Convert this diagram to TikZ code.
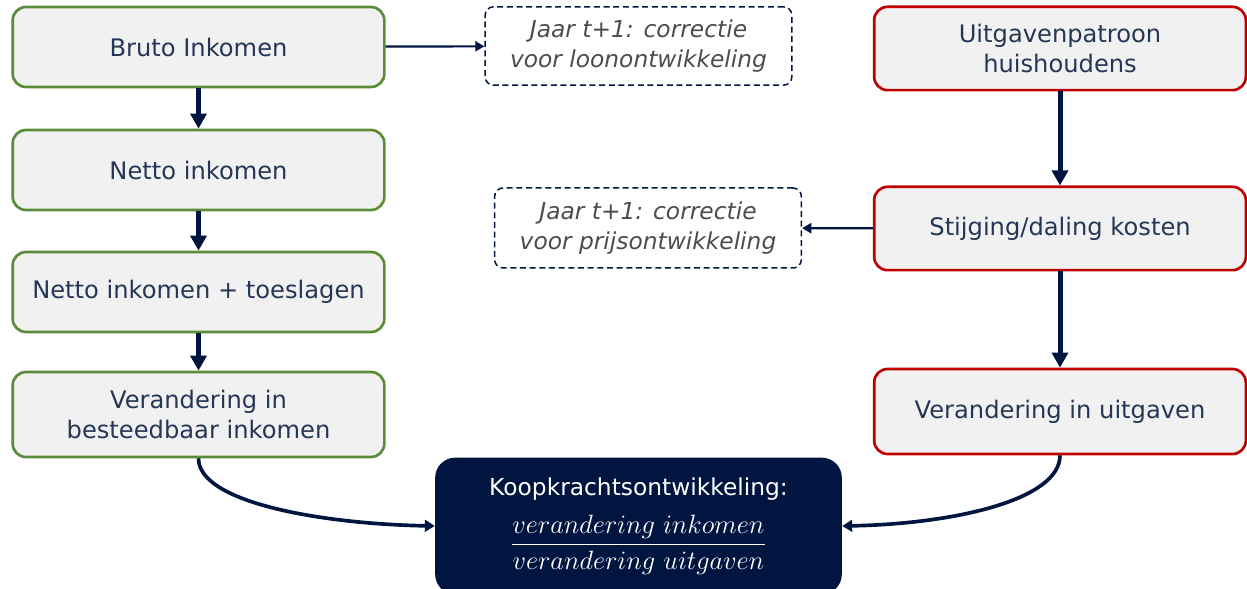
\documentclass[tikz,border=0pt]{standalone}
\usepackage{fontspec}
\setmainfont{DejaVu Sans}
\usepackage{amsmath}
\usepackage{graphicx}
\usepackage{xcolor}
\usetikzlibrary{arrows.meta}
\definecolor{NavyLine}{HTML}{001540}
\definecolor{NavyText}{HTML}{263656}
\definecolor{BoxGrey}{HTML}{F1F1F1}
\definecolor{IncGreen}{HTML}{5B8C3A}
\definecolor{CostRed}{HTML}{C00000}
\newcommand{\PI}[0]{IncGreen}
\newcommand{\PU}[0]{CostRed}

\begin{document}
\begin{tikzpicture}[x=0.6pt, y=-0.6pt,
  box/.style={draw, line width=1.6pt, fill=BoxGrey, rounded corners=8pt,
    minimum width=223pt, minimum height=48pt, text=NavyText, align=center,
    font=\fontsize{14.5}{18}\selectfont},
  note/.style={draw=NavyLine, dash pattern=on 3.6pt off 2.2pt, line width=0.9pt,
    rounded corners=5pt, minimum width=184pt, minimum height=47pt,
    text=black!70, align=center, font=\fontsize{14}{18}\selectfont\itshape},
  flow/.style={NavyLine, line width=3pt, -{Triangle[width=9.5pt,length=9pt]}},
  side/.style={NavyLine, line width=1.3pt, -{Triangle[width=6pt,length=5.5pt]}},
  curved/.style={NavyLine, line width=2.2pt, -{Triangle[width=7pt,length=6pt]}}]

  \useasboundingbox (0,0) rectangle (1247,589);

  \newcommand\XL{198.5}
  \newcommand\XR{1060}

  %% income side
  \node[box, draw=\PI] (bruto) at (\XL, 47) {Bruto Inkomen};
  \node[box, draw=\PI] (netto) at (\XL, 170) {Netto inkomen};
  \node[box, draw=\PI] (toesl) at (\XL, 292) {Netto inkomen + toeslagen};
  \node[box, draw=\PI, minimum height=51pt] (besteed) at (\XL, 414.5)
    {Verandering in\\besteedbaar inkomen};

  %% expense side
  \node[box, draw=\PU, minimum height=50pt] (patroon) at (\XR, 48.5)
    {Uitgavenpatroon\\huishoudens};
  \node[box, draw=\PU, minimum height=50pt] (kosten) at (\XR, 228.5)
    {Stijging/daling kosten};
  \node[box, draw=\PU, minimum height=51pt] (uitgaven) at (\XR, 411.5)
    {Verandering in uitgaven};

  %% corrections
  \node[note] (loon) at (638.5, 46) {Jaar t+1: correctie\\voor loonontwikkeling};
  \node[note, minimum height=48pt] (prijs) at (648, 228)
    {Jaar t+1: correctie\\voor prijsontwikkeling};

  %% result
  \node[fill=NavyLine, rounded corners=12pt, minimum width=244pt,
    minimum height=82pt, text=white, align=center,
    font=\fontsize{14}{18}\selectfont] (koop) at (638.5, 526)
    {Koopkrachtsontwikkeling:\\[8pt]
     \resizebox{154pt}{!}{$\dfrac{verandering\ inkomen}{verandering\ uitgaven}$}};

  \draw[flow] (bruto) -- (netto);
  \draw[flow] (netto) -- (toesl);
  \draw[flow] (toesl) -- (besteed);
  \draw[flow] (patroon) -- (kosten);
  \draw[flow] (kosten) -- (uitgaven);

  \draw[side] (bruto) -- (loon);
  \draw[side] (kosten) -- (prijs);

  \draw[curved] (besteed.south) .. controls +(0,45) and +(-110,-2) .. (koop.west);
  \draw[curved] (uitgaven.south) .. controls +(0,45) and +(110,-2) .. (koop.east);

\end{tikzpicture}
\end{document}
